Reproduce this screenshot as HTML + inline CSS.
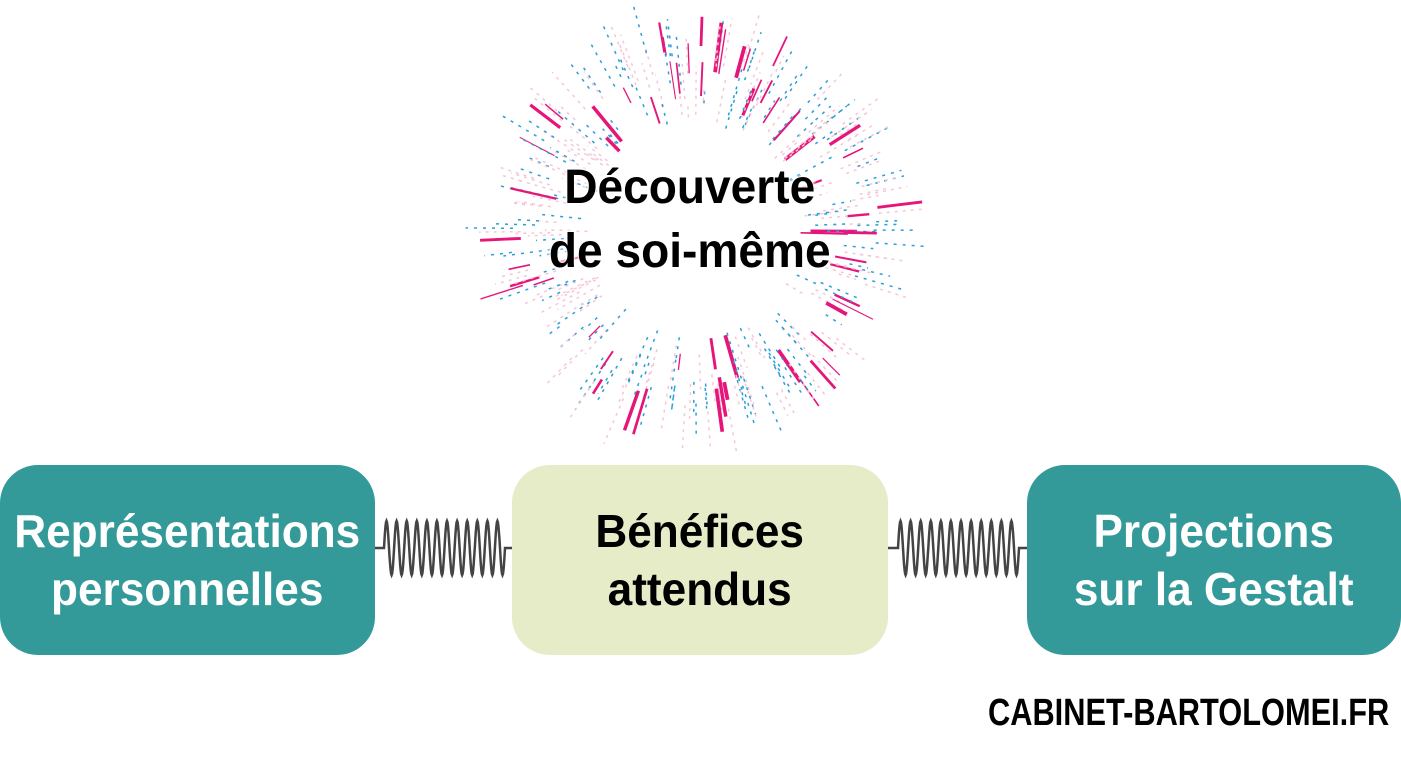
<!DOCTYPE html>
<html><head><meta charset="utf-8"><style>
html,body{margin:0;padding:0;background:#fff;width:1401px;height:758px;overflow:hidden}
.box{position:absolute;top:465px;height:190px;border-radius:38px;display:flex;align-items:center;justify-content:center;text-align:center;font-family:"Liberation Sans",sans-serif;font-weight:bold;font-size:46px;line-height:58px}
.t{background:#339999;color:#fff}
.c{background:#e6ebc8;color:#000}
.sq{display:inline-block;transform:scaleX(0.96)}
#wm{position:absolute;left:988px;top:692px;width:400px;font-family:"Liberation Sans",sans-serif;font-weight:bold;font-size:38px;color:#000;white-space:nowrap}
#title{position:absolute;left:490px;top:156px;width:400px;text-align:center;font-family:"Liberation Sans",sans-serif;font-weight:bold;font-size:48px;line-height:64px;color:#000;text-shadow:0 0 4px #fff,0 0 4px #fff,0 0 6px #fff}
svg{position:absolute;left:0;top:0}
</style></head><body>
<svg id="s" width="1401" height="758"></svg>
<div class="box t" style="left:0;width:375px"><span class="sq">Représentations<br>personnelles</span></div>
<div class="box c" style="left:512px;width:376px"><span class="sq">Bénéfices<br>attendus</span></div>
<div class="box t" style="left:1027px;width:374px"><span class="sq">Projections<br>sur la Gestalt</span></div>
<div id="title"><span class="sq">Découverte<br>de soi-même</span></div>
<div id="wm"><span class="sq" style="transform:scaleX(0.81);transform-origin:left">CABINET-BARTOLOMEI.FR</span></div>
<script>
var s=document.getElementById('s'),h='';
function spring(x0,x1){var d='M'+x0+' 548 L'+(x0+10)+' 548';var a=x0+10,b=x1-8,n=12;for(var i=0;i<=240;i++){var x=a+(b-a)*i/240;var y=548-27*Math.sin(i/240*n*2*Math.PI);d+=' L'+x.toFixed(1)+' '+y.toFixed(1);}d+=' L'+x1+' 548';h+='<path d="'+d+'" fill="none" stroke="#444" stroke-width="2.5"/>';}
spring(374,513);spring(888,1027);
var seed=7;function r(){seed=(seed*16807)%2147483647;return seed/2147483647;}
var cx=695,cy=230;
for(var i=0;i<340;i++){var a=r()*Math.PI*2,r0=105+r()*80,len=8+r()*30;var t=r();var col,w,dash='';
if(t<0.18){col='#e6157a';w=1+r()*3;len=15+r()*35;}else if(t<0.6){col='#2a9fd8';w=1.5;dash=' stroke-dasharray="3 6"';len=15+r()*40;}else{col='#f6c6d8';w=1.5;dash=' stroke-dasharray="3 5"';len=15+r()*35;}
var x1=cx+Math.cos(a)*r0,y1=cy+Math.sin(a)*r0,x2=cx+Math.cos(a)*(r0+len),y2=cy+Math.sin(a)*(r0+len);
h+='<line x1="'+x1.toFixed(1)+'" y1="'+y1.toFixed(1)+'" x2="'+x2.toFixed(1)+'" y2="'+y2.toFixed(1)+'" stroke="'+col+'" stroke-width="'+w.toFixed(1)+'"'+dash+'/>';}
s.innerHTML=h;
</script>
</body></html>
